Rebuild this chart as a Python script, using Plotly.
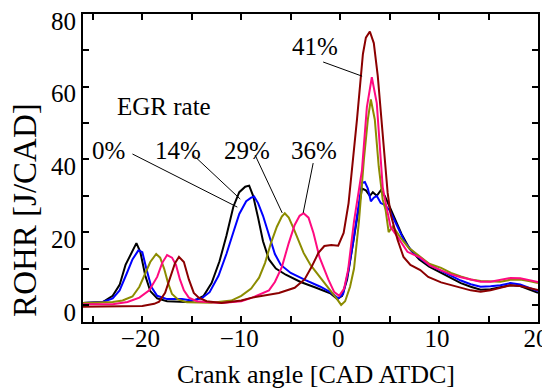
import plotly.graph_objects as go

# ---- data ----
x_0 = [-26, -24, -23, -22.3, -21.7, -21, -20.6, -20.2, -19.7, -19.2, -18.5, -17.5, -15.5, -14.5, -13.8, -13, -12.2, -11.5,
       -10.8, -10.2, -9.6, -9.2, -8.8, -8.3, -7.8, -7.2, -6.5, -5.5, -4, -2.5, -1, -0.3, 0.2, 0.7, 1.2, 1.7, 2.2, 2.6,
       3.0, 3.3, 3.7, 4.1, 4.5, 5.0, 5.5, 6.2, 7.0, 8.0, 9.0, 10.2, 11.2, 12.2, 13.2, 14.2, 15.2, 16.2, 17.2, 18.2, 19.2, 20]
y_0 = [0.5, 0.8, 2.5, 5.5, 11, 15, 17, 14.5, 8, 3.8, 1.8, 1.0, 0.8, 1.5, 2.5, 6, 12, 19,
       27, 31, 32.5, 32.8, 30, 24, 17.5, 12.5, 10, 8.3, 6.3, 4.8, 3.2, 1.6, 2.5, 7, 15, 24, 32, 31.5,
       30, 31, 30, 31.5, 30, 27, 24, 19.5, 15.5, 12.5, 10.5, 8.8, 7.5, 6, 5, 4.2, 4.3, 4.8, 5.4, 5.2, 4.2, 3.3]

x_14 = [-26, -24, -23, -22.3, -21.6, -21, -20.4, -20, -19.6, -19.1, -18.5, -17.5, -16, -15, -14, -13.2, -12.3, -11.5,
        -10.8, -10.2, -9.5, -9, -8.7, -8.3, -7.8, -7.2, -6.6, -6, -5, -3.5, -2, -1, -0.2, 0.3, 0.8, 1.3, 1.8, 2.2,
        2.5, 2.8, 3.1, 3.4, 3.7, 4.1, 4.5, 5.0, 5.8, 6.5, 7.2, 8.0, 9.0, 10.2, 11.2, 12.2, 13.2, 14.2, 15.2, 16.2,
        17.2, 18.2, 19.2, 20]
y_14 = [0.5, 0.8, 1.8, 4, 8.5, 12.5, 15, 14.5, 10, 5, 2.5, 1.6, 1.6, 1.2, 1.8, 3.5, 8, 14,
        20, 25, 28.5, 29.5, 29.8, 28, 24.5, 19, 14, 11, 8.8, 6.8, 5, 3.5, 1.8, 3, 9, 17, 27, 33.5,
        33.8, 32, 28.5, 29.5, 30, 28, 27.5, 26, 21.5, 17.5, 15, 13, 11, 9.3, 8, 6.7, 5.7, 5, 5.1, 5.4,
        6, 5.6, 4.6, 3.8]

x_29 = [-26, -23, -22, -21, -20.3, -19.7, -19.2, -18.6, -18.2, -17.8, -17.4, -17, -16.4, -15.5, -13, -11, -10, -9,
        -8.2, -7.6, -7, -6.4, -5.9, -5.6, -5.2, -4.7, -4.2, -3.7, -3, -2, -1, -0.3, 0.1, 0.5, 1.0, 1.4, 1.9, 2.4,
        2.8, 3.1, 3.5, 3.9, 4.3, 4.6, 4.9, 5.3, 5.6, 6.1, 6.9, 7.5, 8.1, 9.0, 10.2, 11.2, 12.2, 13.2, 14.2, 15.2,
        16.2, 17.2, 18.2, 19.2, 20]
y_29 = [0.5, 0.8, 1.2, 2.3, 5, 8.5, 11.8, 14, 13, 10, 6, 3, 1.5, 0.7, 0.6, 1.2, 2.5, 4.5,
        7.5, 11.5, 17, 21.5, 24.3, 25.2, 24, 21, 17.5, 14.3, 11, 7.5, 4.2, 1.5, 0, 1, 5, 10, 23, 40,
        51, 56.5, 51, 38, 29, 26, 20, 21.5, 20.5, 18.5, 15.8, 14.5, 13.2, 11.3, 10.2, 8.8, 7.8, 7, 6.6, 6.4,
        6.4, 6.9, 7, 6.5, 6]

x_36 = [-26, -23, -21.5, -20.3, -19.3, -18.5, -18, -17.5, -17, -16.6, -16.2, -15.8, -15.3, -14.5, -12, -10, -8.9,
        -7.2, -6.6, -5.9, -5.2, -4.6, -4.1, -3.7, -3.2, -2.7, -2.1, -1.2, -0.6, -0.1, 0.4, 0.8, 1.4, 1.8, 2.2, 2.7,
        3.2, 3.7, 4.05, 4.3, 4.6, 5.1, 5.8, 6.8, 8.1, 9.1, 10.2, 11.2, 12.2, 13.2, 14.2, 15.2, 16.2, 17.2, 18.2,
        19.2, 20]
y_36 = [0.2, 0.2, 0.8, 2, 4, 7.7, 11.5, 13.7, 13, 11, 7, 4, 2, 1, 0.5, 1, 2,
        4, 6.3, 10.4, 17, 22, 24.5, 25.2, 24, 19.8, 13.2, 7, 3.5, 2.5, 4.5, 9.6, 23, 30, 37, 54.4,
        62.6, 55.5, 41.7, 32.4, 28, 21.4, 18.7, 14.6, 13, 10.8, 9.5, 8.4, 7.6, 6.9, 6.4, 6.4, 6.8, 7.4, 7.3,
        6.7, 6.3]

x_41 = [-26, -23, -20, -18.8, -18.3, -17.7, -17.2, -16.7, -16.3, -15.8, -15.3, -14.8, -14.3, -13.5, -12, -10, -8.9,
        -7, -6.2, -4.6, -3.6, -2.9, -2.2, -1.6, -0.9, -0.2, 0.35, 0.85, 1.3, 1.7, 2.3, 2.6, 3.0, 3.4, 3.8, 4.2,
        4.5, 4.8, 5.1, 5.8, 6.4, 7.1, 8.1, 8.9, 10.2, 11.2, 12.2, 13.2, 14.2, 15.2, 16.2, 17.2, 18.2, 19.2, 20]
y_41 = [-0.5, -0.3, -0.3, 0.3, 0.9, 3.3, 7.7, 11.5, 13.2, 11.8, 7, 3.3, 2, 1, 0.5, 1.2, 2,
        2.8, 3.3, 4.7, 7, 10.4, 14.3, 16.2, 16.5, 16.3, 19.8, 28, 40, 51, 69, 73.5, 75.2, 72, 63, 51,
        40, 30.8, 25, 17.9, 13.2, 11, 9.6, 7.7, 6.2, 5.4, 4.7, 4, 3.6, 4, 4.7, 5.4, 5.2, 4.5, 4.1]

series_names = ["0%", "14%", "29%", "36%", "41%"]
series_x = [x_0, x_14, x_29, x_36, x_41]
series_y = [y_0, y_14, y_29, y_36, y_41]
series_colors = ["#000000", "#0000ff", "#8c8c00", "#ff0a80", "#8b0000"]

# label positions (data coords) and leader lines
label_text = ["EGR rate", "0%", "14%", "29%", "36%", "41%"]
label_x = [-17.8, -23.4, -16.4, -9.4, -2.6, -2.5]
label_y = [54.5, 42.5, 42.5, 42.5, 42.5, 71]
leader_x0 = [-21.0, -14.85, -8.6, -2.73, -1.72]
leader_y0 = [41.5, 41.2, 41.2, 39.0, 66.8]
leader_x1 = [-10.4, -10.1, -5.86, -3.74, 2.22]
leader_y1 = [26.9, 29.1, 25.3, 25.3, 62.9]

x_ticks = [-20, -10, 0, 10, 20]
y_ticks = [0, 20, 40, 60, 80]
x_title = "Crank angle [CAD ATDC]"
y_title = "ROHR [J/CAD]"

FONT = "Times New Roman, Liberation Serif, serif"

fig = go.Figure()
for name, xs, ys, c in zip(series_names, series_x, series_y, series_colors):
    fig.add_trace(go.Scatter(x=xs, y=ys, mode="lines", name=name,
                             line=dict(color=c, width=2)))

for t, lx, ly in zip(label_text, label_x, label_y):
    fig.add_annotation(x=lx, y=ly, text=t, showarrow=False, xanchor="center", yanchor="middle",
                       font=dict(family=FONT, size=25, color="black"))

for a, b, c, d in zip(leader_x0, leader_y0, leader_x1, leader_y1):
    fig.add_shape(type="line", x0=a, y0=b, x1=c, y1=d, line=dict(color="black", width=1))

# axis titles placed as text where the reference has them
fig.add_annotation(xref="paper", yref="paper", x=-0.1275, y=0.364, text=y_title, textangle=-90,
                   showarrow=False, xanchor="center", yanchor="middle",
                   font=dict(family=FONT, size=33, color="black"))
fig.add_annotation(xref="paper", yref="paper", x=0.512, y=-0.172, text=x_title,
                   showarrow=False, xanchor="center", yanchor="middle",
                   font=dict(family=FONT, size=26, color="black"))

axis_common = dict(showgrid=False, zeroline=False, showline=True, linecolor="black", linewidth=2,
                   mirror="allticks", ticks="inside", ticklen=6, tickwidth=1.5, tickcolor="black",
                   ticklabeloverflow="allow",
                   tickfont=dict(family=FONT, size=25, color="black"))

fig.update_xaxes(range=[-26, 20], tickmode="array", tickvals=x_ticks,
                 minor=dict(dtick=5, tick0=0, ticks="inside", ticklen=6, tickwidth=1.5, tickcolor="black"),
                 ticklabelstandoff=-7, ticklabelshift=-2,
                 **axis_common)
fig.update_yaxes(range=[-4.7, 80], tickmode="array", tickvals=y_ticks,
                 minor=dict(dtick=10, tick0=0, ticks="inside", ticklen=6, tickwidth=1.5, tickcolor="black"),
                 ticklabelshift=7,
                 **axis_common)

# the page body adds an 8px offset, so the figure is 8px smaller and margins shifted
fig.update_layout(width=542, height=381, showlegend=False,
                  plot_bgcolor="white", paper_bgcolor="white",
                  margin=dict(l=75, r=12, t=6, b=67, autoexpand=False),
                  font=dict(family=FONT, color="black"))

fig.write_html("out.html")
